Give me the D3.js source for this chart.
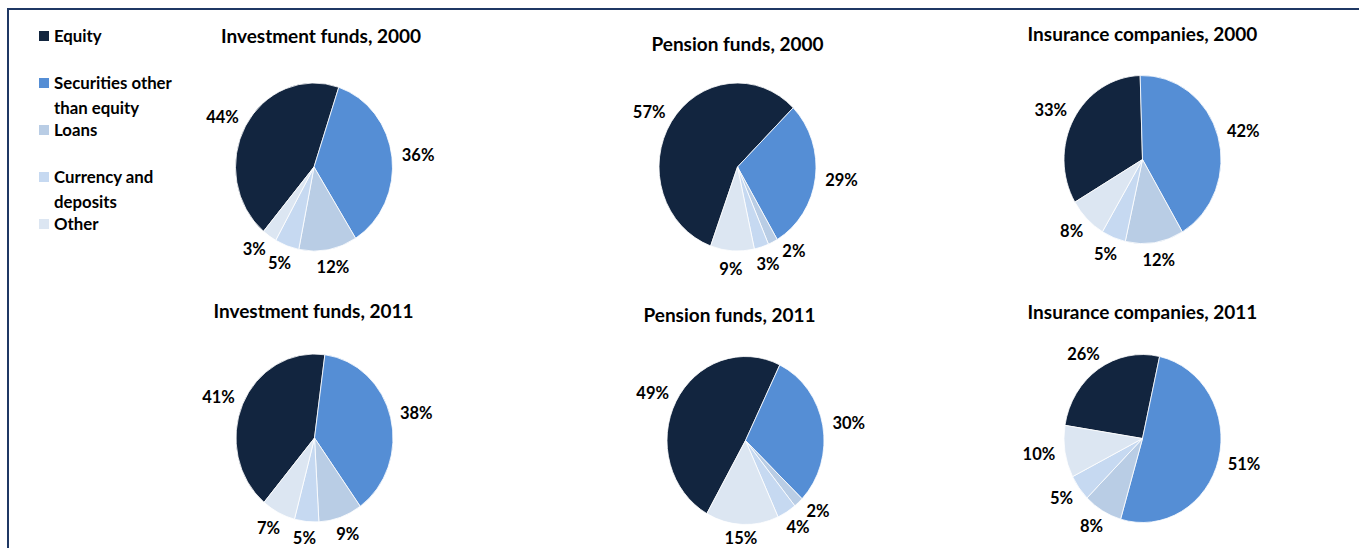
<!DOCTYPE html>
<html><head><meta charset="utf-8">
<script src="https://cdn.jsdelivr.net/npm/d3@7"></script>
<style>
html,body{margin:0;padding:0;background:#fff;}
svg{display:block;font-family:Lato,"Open Sans",sans-serif;}
</style></head>
<body>
<svg id="chart" width="1359" height="548"></svg>
<script>
// ---- data ----
const categories = ["Equity", "Securities other than equity", "Loans", "Currency and deposits", "Other"];
const legendLines = [["Equity"], ["Securities other", "than equity"], ["Loans"], ["Currency and", "deposits"], ["Other"]];
const colors = ["#12253f", "#558ed5", "#b9cde5", "#c6d9f1", "#dce6f2"];
const titles = ["Investment funds, 2000", "Pension funds, 2000", "Insurance companies, 2000",
                "Investment funds, 2011", "Pension funds, 2011", "Insurance companies, 2011"];
const invest2000 = [44, 36, 12, 5, 3];
const pension2000 = [57, 29, 2, 3, 9];
const insure2000 = [33, 42, 12, 5, 8];
const invest2011 = [41, 38, 9, 5, 7];
const pension2011 = [49, 30, 2, 4, 15];
const insure2011 = [26, 51, 8, 5, 10];
const seriesList = [invest2000, pension2000, insure2000, invest2011, pension2011, insure2011];
// rotation of first slice (degrees, clockwise from 12 o'clock)
const startAngles = [220, 200, 239.5, 220, 209.5, 279];

// ---- layout ----
const panels = [
  {cx: 314, cy: 167, ty: 36},
  {cx: 737.5, cy: 167, ty: 44},
  {cx: 1142.5, cy: 159.5, ty: 34},
  {cx: 314.5, cy: 438, ty: 311},
  {cx: 745.5, cy: 440.5, ty: 315},
  {cx: 1142.5, cy: 438.5, ty: 312}
];
const titleOffsetX = [7, 0, 0, -1, -16, 0];
const rx = 78.5, ry = 84;
const gap = 10;
const W = 1359, H = 548;

const svg = d3.select("#chart");

// frame
svg.append("line").attr("x1", 8).attr("x2", W).attr("y1", 9).attr("y2", 9)
  .attr("stroke", "#1f3864").attr("stroke-width", 2);
svg.append("line").attr("x1", 8).attr("x2", 8).attr("y1", 8).attr("y2", H)
  .attr("stroke", "#1f3864").attr("stroke-width", 2);

// legend
const legend = svg.append("g");
legendLines.forEach((lines, i) => {
  const y = 36 + i * 47;
  legend.append("rect").attr("x", 39).attr("y", y - 5).attr("width", 10).attr("height", 10)
    .attr("fill", colors[i]);
  lines.forEach((ln, k) => {
    legend.append("text").attr("x", 54).attr("y", y + k * 24.5).attr("dy", "0.36em")
      .attr("font-size", 16.8).attr("font-weight", 700).attr("fill", "#000").text(ln);
  });
});

const arc = d3.arc().innerRadius(0).outerRadius(rx);

seriesList.forEach((vals, pi) => {
  const p = panels[pi];
  const s = startAngles[pi] * Math.PI / 180;
  const pie = d3.pie().sort(null).startAngle(s).endAngle(s + 2 * Math.PI);
  const arcs = pie(vals);
  const g = svg.append("g");
  g.append("text").attr("x", p.cx + titleOffsetX[pi]).attr("y", p.ty).attr("dy", "0.36em")
    .attr("text-anchor", "middle").attr("font-size", 19).attr("font-weight", 700)
    .attr("fill", "#000").text(titles[pi]);
  const pg = g.append("g").attr("transform", `translate(${p.cx},${p.cy}) scale(1,${ry / rx})`);
  pg.selectAll("path").data(arcs).join("path")
    .attr("d", arc).attr("fill", (d, i) => colors[i])
    .attr("stroke", "#fff").attr("stroke-width", 0.8).attr("vector-effect", "non-scaling-stroke");

  // labels
  const labels = arcs.map((d, i) => {
    const t = g.append("text").attr("text-anchor", "middle").attr("dy", "0.36em")
      .attr("font-size", 16.5).attr("font-weight", 700).attr("fill", "#000")
      .text(d.data + "%");
    const w = t.node().getComputedTextLength();
    return {t, w, h: 16, ang: (d.startAngle + d.endAngle) / 2, v: d.data};
  });
  const place = L => {
    const sn = Math.sin(L.ang), cs = Math.cos(L.ang);
    L.x = p.cx + (rx + gap) * sn + (L.w / 2) * sn;
    L.y = Math.min(H - 10, p.cy - (ry + gap) * cs - (L.h / 2) * cs);
  };
  labels.forEach(place);
  const overlap = (a, b) => Math.abs(a.x - b.x) < (a.w + b.w) / 2 + 2 && Math.abs(a.y - b.y) < (a.h + b.h) / 2;
  for (let iter = 0; iter < 200; iter++) {
    let moved = false;
    for (let i = 0; i < labels.length; i++) for (let j = 0; j < labels.length; j++) {
      if (i === j) continue;
      const a = labels[i], b = labels[j];
      if (a.v < b.v || (a.v === b.v && i > j)) {
        if (overlap(a, b)) {
          let diff = a.ang - b.ang;
          while (diff > Math.PI) diff -= 2 * Math.PI;
          while (diff < -Math.PI) diff += 2 * Math.PI;
          a.ang += (diff >= 0 ? 1 : -1) * 0.5 * Math.PI / 180;
          place(a);
          moved = true;
        }
      }
    }
    if (!moved) break;
  }
  labels.forEach(L => L.t.attr("x", L.x).attr("y", L.y));
});
</script>
</body></html>
